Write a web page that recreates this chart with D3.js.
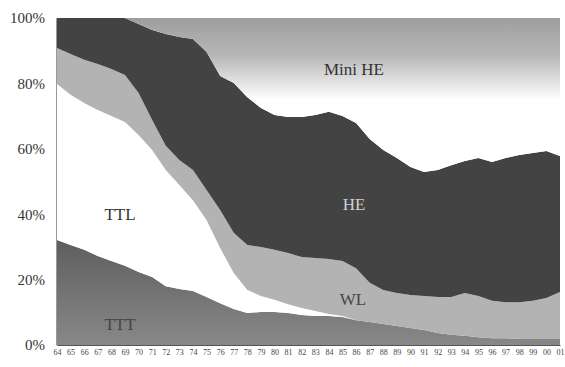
<!DOCTYPE html>
<html><head><meta charset="utf-8">
<script src="https://cdn.jsdelivr.net/npm/d3@7"></script>
<style>body{margin:0;background:#fff}svg{display:block}svg text{font-family:"Liberation Serif","Times New Roman","DejaVu Serif",serif}</style>
</head><body>
<svg id="chart" width="565" height="367"></svg>
<script>
const years = ["64","65","66","67","68","69","70","71","72","73","74","75","76","77","78","79","80","81","82","83","84","85","86","87","88","89","90","91","92","93","94","95","96","97","98","99","00","01"];
const TTT = [32.1,30.6,29.1,27.2,25.7,24.2,22.3,20.8,18.0,17.1,16.5,14.7,12.8,11.0,9.8,10.1,10.1,9.8,9.2,8.9,8.9,8.6,7.6,7.0,6.4,5.8,5.2,4.6,3.7,3.1,2.8,2.4,2.1,2.1,1.8,1.8,1.8,1.8];
const TTL = [47.7,45.9,44.9,44.7,44.3,44.0,41.9,38.8,35.5,31.8,27.8,23.5,16.9,11.0,7.0,4.9,3.7,2.7,2.1,1.5,0.6,0.3,0,0,0,0,0,0,0,0,0,0,0,0,0,0,0,0];
const WL = [11.0,12.5,13.2,14.0,14.4,14.4,12.9,9.2,7.4,7.7,9.2,9.2,11.6,12.3,13.8,15.0,15.3,15.6,15.6,16.2,16.8,16.8,15.9,12.0,10.4,10.1,10.1,10.4,11.0,11.6,13.1,12.6,11.4,11.0,11.3,11.7,12.6,14.4];
const HE = [9.2,11.0,12.8,14.1,15.6,17.4,21.1,27.5,34.2,37.6,40.1,42.2,41.0,45.8,45.2,42.5,41.2,41.6,42.8,43.7,45.0,44.3,44.4,44.0,42.8,41.3,39.1,37.9,38.8,40.3,40.4,42.2,42.5,44.1,45.0,45.2,44.9,41.6];
const MiniHE = [0,0,0,0,0,0,1.8,3.7,4.9,5.8,6.4,10.4,17.7,19.9,24.2,27.5,29.7,30.3,30.3,29.7,28.7,30.0,32.1,37.0,40.4,42.8,45.6,47.1,46.5,45.0,43.7,42.8,44.0,42.8,41.9,41.3,40.7,42.2];
const seriesNames = ["TTT","TTL","WL","HE","Mini HE"];
const yTicks = [0,20,40,60,80,100];

const rows = years.map((y,i)=>({year:y,"TTT":TTT[i],"TTL":TTL[i],"WL":WL[i],"HE":HE[i],"Mini HE":MiniHE[i]}));
const stacked = d3.stack().keys(seriesNames).offset(d3.stackOffsetExpand)(rows);

const svg = d3.select("#chart");
const L=57, R=560, T=18, B=345;
const x = d3.scalePoint().domain(years).range([L,R]);
const y = d3.scaleLinear().domain([0,1]).range([B,T]);

const defs = svg.append("defs");
const g1 = defs.append("linearGradient").attr("id","gMini").attr("gradientUnits","userSpaceOnUse")
  .attr("x1",0).attr("x2",0).attr("y1",T).attr("y2",100);
g1.append("stop").attr("offset","0%").attr("stop-color","#9e9e9e");
g1.append("stop").attr("offset","45%").attr("stop-color","#b6b6b6");
g1.append("stop").attr("offset","100%").attr("stop-color","#ffffff");
const g2 = defs.append("linearGradient").attr("id","gTTT").attr("gradientUnits","userSpaceOnUse")
  .attr("x1",0).attr("x2",0).attr("y1",230).attr("y2",B);
g2.append("stop").attr("offset","0%").attr("stop-color","#5a5a5a");
g2.append("stop").attr("offset","100%").attr("stop-color","#888888");

const fills = {"TTT":"url(#gTTT)","TTL":"#ffffff","WL":"#b3b3b3","HE":"#434343","Mini HE":"url(#gMini)"};
const area = d3.area().x(d=>x(d.data.year)).y0(d=>y(d[0])).y1(d=>y(d[1]));
svg.append("g").selectAll("path").data(stacked).join("path")
  .attr("d",area).attr("fill",d=>fills[d.key]);

// axes
const yAxis = d3.axisLeft(y).tickValues(yTicks.map(v=>v/100)).tickFormat((d,i)=>yTicks[i]+"%").tickSize(0).tickPadding(11);
const ga = svg.append("g").attr("transform",`translate(${L-1},0)`).call(yAxis).attr("font-family",null);
ga.select(".domain").attr("stroke","#999");
ga.selectAll("text").attr("font-size",15).attr("fill","#333");
const xAxis = d3.axisBottom(x).tickSize(0).tickPadding(4);
const gx = svg.append("g").attr("transform",`translate(0,${B})`).call(xAxis).attr("font-family",null);
gx.select(".domain").attr("stroke","#555");
gx.selectAll("text").attr("font-size",8).attr("fill","#444");

const labels = [["Mini HE",354,75,"#333"],["HE",354,210,"#d0d0d0"],["TTL",120,220,"#333"],["WL",353,305,"#444"],["TTT",120,330,"#444"]];
svg.append("g").selectAll("text").data(labels).join("text")
  .attr("x",d=>d[1]).attr("y",d=>d[2]).attr("text-anchor","middle")
  .attr("font-size",17).attr("fill",d=>d[3]).text(d=>d[0]);
</script>
</body></html>
